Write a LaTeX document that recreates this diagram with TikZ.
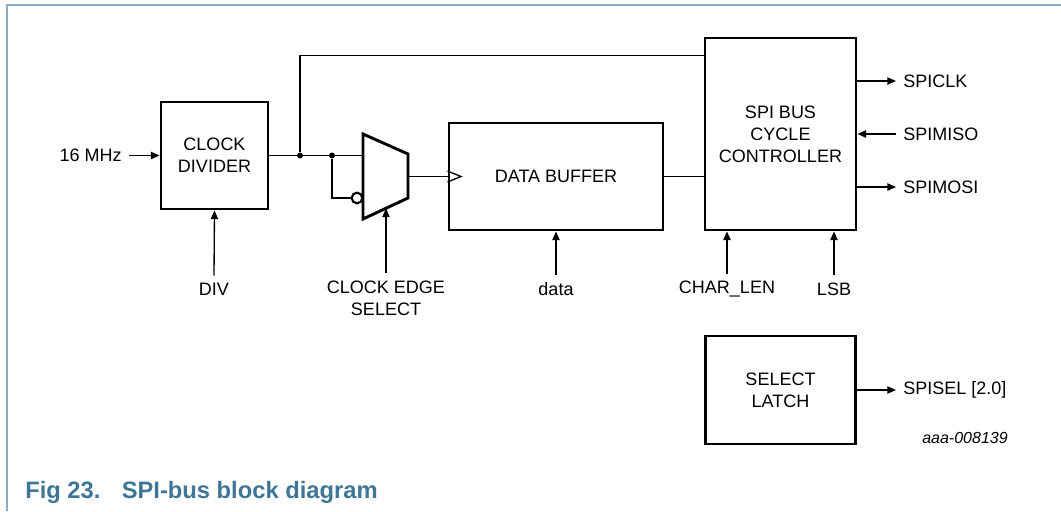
\documentclass[tikz,border=0pt]{standalone}
\usepackage{fontspec}
\setmainfont{Liberation Sans}
\usetikzlibrary{arrows.meta,calc}
\definecolor{framec}{RGB}{140,172,194}
\definecolor{titlec}{RGB}{62,118,150}
\begin{document}
\begin{tikzpicture}[x=0.75pt,y=-0.75pt,
  every node/.style={font=\fontsize{13.5pt}{16.5pt}\selectfont, inner sep=1pt},
  blk/.style={draw, line width=2.2pt, align=center},
  wire/.style={line width=1pt},
  arr/.style={wire, -{Triangle[length=6.5pt,width=5.5pt]}},
  dot/.style={circle, fill, inner sep=0pt, minimum size=4.5pt},
  lbl/.style={align=center, inner sep=5.25pt}]
\useasboundingbox (0,0) rectangle (1061,511);
% frame
\draw[framec, line width=1.6pt] (1061,5) -- (7,5) -- (7,511);
% blocks
\node[blk, minimum width=80.25pt, minimum height=80.25pt] (cd) at (214.5,155.5) {CLOCK\\DIVIDER};
\node[blk, minimum width=160.5pt, minimum height=80.25pt] (db) at (556,176.5) {DATA BUFFER};
\node[blk, minimum width=113.25pt, minimum height=144pt] (spi) at (780.5,134) {SPI BUS\\CYCLE\\CONTROLLER};
\node[blk, minimum width=112.5pt, minimum height=81pt] (sl) at (780.5,390) {SELECT\\LATCH};
% mux
\coordinate (m1) at (363,134);
\coordinate (m2) at (408,154);
\coordinate (m3) at (408,198);
\coordinate (m4) at (363,219);
\draw[line width=2.2pt, line join=miter] (m1) -- (m2) -- (m3) -- (m4) -- cycle;
\coordinate (min) at (363,155.5);
\coordinate (mout) at (408,176.5);
\coordinate (msel) at (386,208.5);
\node[circle, draw, line width=1.6pt, minimum size=8pt, inner sep=0pt] (bub) at (357,198) {};
% junctions
\node[dot] (j1) at (300,155.5) {};
\node[dot] (j2) at (332,155.5) {};
% labels
\node[lbl, anchor=east] (in16) at (129,155.5) {16 MHz};
\node[lbl] (div) at (214,289) {DIV};
\node[lbl] (ces) at (386,298) {CLOCK EDGE\\SELECT};
\node[lbl] (data) at (556,289) {data};
\node[lbl] (clen) at (727,289) {CHAR\_LEN};
\node[lbl] (lsb) at (834,289) {LSB};
\node[lbl, anchor=west] (sclk) at (896,81) {SPICLK};
\node[lbl, anchor=west] (smiso) at (896,134) {SPIMISO};
\node[lbl, anchor=west] (smosi) at (896,187) {SPIMOSI};
\node[lbl, anchor=west] (ssel) at (896,390) {SPISEL [2.0]};
\node[font=\fontsize{12pt}{14pt}\itshape] (code) at (965,438) {aaa-008139};
\node[anchor=base west, font=\fontsize{17.8pt}{20pt}\bfseries, text=titlec, inner sep=0pt] (title) at (25,498) {Fig 23.\hspace{0.9em}SPI-bus block diagram};
% connectors
\draw[arr] (in16.east) -- (cd.west);
\draw[arr] (div.north) -- (cd.south);
\draw[wire] (cd.east) -- (min);
\draw[wire] (j1) |- ([yshift=-14.25pt]spi.north west);
\draw[wire] (j2) |- (bub.west);
\draw[wire] (mout) -- (mout -| db.west);
\draw[wire] (db.west |- 0,171) -- (461,176.5) -- (db.west |- 0,182);
\draw[arr] (ces.north) -- (msel);
\draw[arr] (data.north) -- (db.south);
\draw[wire] (db.east) -- (db.east -| spi.west);
\draw[arr] (spi.east |- sclk) -- (sclk.west);
\draw[arr] (smiso.west) -- (spi.east |- smiso);
\draw[arr] (spi.east |- smosi) -- (smosi.west);
\draw[arr] (clen.north) -- (clen.north |- spi.south);
\draw[arr] (lsb.north) -- (lsb.north |- spi.south);
\draw[arr] (sl.east) -- (ssel.west);
\end{tikzpicture}
\end{document}
